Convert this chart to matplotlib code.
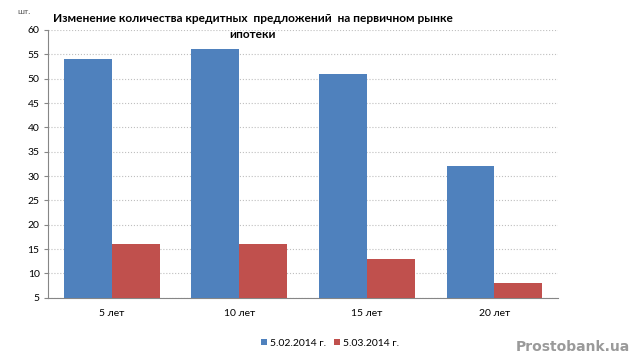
import matplotlib.pyplot as plt
import numpy as np

plt.rcParams['font.family'] = ['Lato', 'DejaVu Sans']

categories = ["5 лет", "10 лет", "15 лет", "20 лет"]
feb = [54, 56, 51, 32]
mar = [16, 16, 13, 8]
series_names = ["5.02.2014 г.", "5.03.2014 г."]

fig = plt.figure(figsize=(6.4, 3.61), dpi=100)
ax = fig.add_axes([0.075, 0.175, 0.797, 0.742])

x = np.arange(len(categories))
w = 0.375
ax.bar(x - w / 2, feb, w, bottom=0, color="#4f81bd", label=series_names[0], zorder=3)
ax.bar(x + w / 2, mar, w, bottom=0, color="#c0504d", label=series_names[1], zorder=3)

ax.set_ylim(5, 60)
ax.set_xlim(-0.5, 3.5)
ax.set_yticks(range(5, 61, 5))
ax.set_xticks(x)
ax.set_xticklabels(categories, fontsize=7.5)
ax.tick_params(axis="y", labelsize=7.5, length=3, color="#868686", pad=3)
ax.tick_params(axis="x", length=0, pad=8)
ax.yaxis.grid(True, linestyle=":", color="#bfbfbf", linewidth=0.8, zorder=0)
for s in ["top", "right"]:
    ax.spines[s].set_visible(False)
ax.spines["left"].set_color("#868686")
ax.spines["bottom"].set_color("#868686")

fig.text(0.395, 0.927, "Изменение количества кредитных  предложений  на первичном рынке\nипотеки",
         ha="center", va="center", fontsize=8.6, fontweight="bold", linespacing=1.55)
fig.text(0.037, 0.967, "шт.", fontsize=6, color="#555555", ha="center", va="center")

ax.legend(loc="center", bbox_to_anchor=(0.553, -0.17), ncol=2, frameon=False,
          fontsize=7.5, handlelength=0.6, handleheight=0.6, handletextpad=0.3, columnspacing=0.7)

fig.text(0.985, 0.04, "Prostobank.ua", fontsize=10, fontweight="bold", color="#9a9a9a",
         ha="right", va="center", family="DejaVu Sans")

fig.savefig("out.png", dpi=100)
